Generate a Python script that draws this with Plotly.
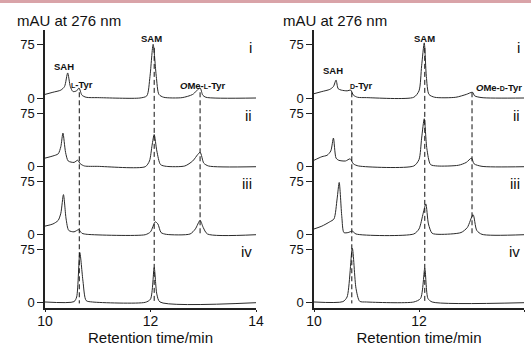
import plotly.graph_objects as go

# ---------------- data ----------------
# Left chromatograms (L-Tyr series): retention time (min) and absorbance (mAU)
L_i_t  = [10.00, 10.15, 10.30, 10.37, 10.43, 10.48, 10.53, 10.60, 10.645, 10.70, 10.78, 11.00, 11.80, 11.93, 11.99, 12.05, 12.11, 12.16, 12.25, 12.60, 12.80, 12.94, 12.99, 13.05, 14.00]
L_i_v  = [5, 8, 11, 16, 35, 16, 9, 10, 14, 4, 1, 0.5, 0, 3, 30, 75, 30, 5, 1, 0.5, 5, 14, 4, 1, 0]
L_ii_t = [10.00, 10.15, 10.25, 10.30, 10.34, 10.39, 10.44, 10.55, 10.62, 10.67, 10.75, 11.00, 11.90, 11.98, 12.03, 12.07, 12.12, 12.19, 12.30, 12.65, 12.80, 12.94, 13.01, 13.10, 14.00]
L_ii_v = [12, 15, 18, 28, 47, 20, 8, 6, 9, 4, 1, 0.5, 0, 8, 30, 45, 22, 3, 0.5, 1, 8, 20, 5, 1, 0]
L_iii_t = [10.00, 10.15, 10.25, 10.30, 10.35, 10.40, 10.45, 10.55, 10.64, 10.70, 10.80, 11.90, 12.00, 12.09, 12.14, 12.20, 12.30, 12.75, 12.85, 12.94, 13.00, 13.08, 14.00]
L_iii_v = [12, 15, 20, 30, 56, 22, 6, 4, 7, 2, 0.5, 0, 4, 18, 15, 3, 0.5, 1, 8, 20, 10, 1, 0]
L_iv_t = [10.00, 10.55, 10.60, 10.66, 10.72, 10.78, 10.90, 11.90, 12.00, 12.07, 12.12, 12.18, 14.00]
L_iv_v = [1, 1.5, 8, 70, 30, 3, 1, 0.5, 5, 49, 12, 1, 0]

# Right chromatograms (D-Tyr series)
R_i_t  = [10.00, 10.15, 10.30, 10.37, 10.42, 10.46, 10.52, 10.63, 10.70, 10.75, 10.83, 11.00, 11.90, 12.00, 12.05, 12.10, 12.14, 12.19, 12.30, 12.70, 12.90, 13.02, 13.06, 13.20, 14.00]
R_i_v  = [6, 9, 12, 16, 25, 13, 11, 10, 11, 4, 1, 0.5, 1, 10, 45, 77, 30, 5, 1, 1, 5, 8, 3, 0.5, 0]
R_ii_t = [10.00, 10.15, 10.25, 10.32, 10.37, 10.42, 10.47, 10.60, 10.69, 10.75, 10.85, 11.90, 12.00, 12.05, 12.10, 12.15, 12.22, 12.35, 12.75, 12.90, 13.00, 13.05, 13.20, 14.00]
R_ii_v = [9, 14, 16, 22, 40, 12, 9, 8, 11, 4, 1, 1, 10, 40, 67, 25, 3, 1, 2, 6, 12, 4, 0.5, 0]
R_iii_t = [10.00, 10.15, 10.30, 10.38, 10.44, 10.48, 10.53, 10.57, 10.65, 10.73, 10.80, 11.90, 12.00, 12.08, 12.13, 12.18, 12.25, 12.40, 12.80, 12.92, 13.03, 13.10, 13.20, 14.00]
R_iii_v = [8, 12, 18, 22, 50, 73, 25, 3, 3, 5, 1, 1, 8, 30, 43, 15, 2, 0.5, 3, 10, 28, 6, 0.5, 0]
R_iv_t = [10.00, 10.55, 10.63, 10.73, 10.80, 10.87, 11.00, 11.90, 12.03, 12.11, 12.17, 12.25, 14.00]
R_iv_v = [1, 1.5, 8, 76, 20, 2, 1, 1, 6, 48, 6, 1, 0]

# Marker (dashed line) retention times
L_marks = [10.65, 12.07, 12.94]
R_marks = [10.72, 12.11, 13.01]

panel_names = ["i", "ii", "iii", "iv"]
y_ticks = [0, 75]
x_ticks = [10, 12, 14]

# ---------------- layout constants ----------------
OFFS = [286, 190, 95, 0]   # vertical stacking offsets (i, ii, iii, iv)
FONT = "Liberation Sans, Arial, sans-serif"
LINE = "#2a2a2a"

fig = go.Figure()

left_sets = [(L_i_t, L_i_v), (L_ii_t, L_ii_v), (L_iii_t, L_iii_v), (L_iv_t, L_iv_v)]
right_sets = [(R_i_t, R_i_v), (R_ii_t, R_ii_v), (R_iii_t, R_iii_v), (R_iv_t, R_iv_v)]

for (t, v), off in zip(left_sets, OFFS):
    fig.add_trace(go.Scatter(x=t, y=[a + off for a in v], mode="lines",
                             line=dict(color=LINE, width=1, shape="spline", smoothing=0.7),
                             xaxis="x", yaxis="y", hoverinfo="skip"))
for (t, v), off in zip(right_sets, OFFS):
    fig.add_trace(go.Scatter(x=t, y=[a + off for a in v], mode="lines",
                             line=dict(color=LINE, width=1, shape="spline", smoothing=0.7),
                             xaxis="x2", yaxis="y2", hoverinfo="skip"))

# dashed marker lines: top at panel i peak, bottom at panel iv (or iii for OMe)
mark_top = [OFFS[0] + 8, OFFS[0] + 70, OFFS[0] + 8]
mark_bot = [OFFS[3] - 1, OFFS[3] - 1, OFFS[2] - 1]
for marks, xa, ya in [(L_marks, "x", "y"), (R_marks, "x2", "y2")]:
    for m, top, bot in zip(marks, mark_top, mark_bot):
        fig.add_trace(go.Scatter(x=[m, m], y=[top, bot], mode="lines",
                                 line=dict(color="#111", width=1, dash="5px,3px"),
                                 xaxis=xa, yaxis=ya, hoverinfo="skip"))

tickvals = []
ticktext = []
for off in OFFS:
    for tv in y_ticks:
        tickvals.append(off + tv)
        ticktext.append(str(tv))

YR = [-7.4, 381]
yax = dict(range=YR, showgrid=False, zeroline=False, showline=True, linecolor="#222", linewidth=1.5,
           ticks="outside", ticklen=6, tickwidth=1.2, tickcolor="#222",
           tickvals=tickvals, ticktext=ticktext, tickfont=dict(family=FONT, size=13, color="#111"))
xax = dict(range=[10, 14], showgrid=False, zeroline=False, showline=True, linecolor="#222", linewidth=1.5,
           ticks="outside", ticklen=2, tickwidth=1.2, tickcolor="#222", tickvals=x_ticks,
           ticklabelstandoff=-3,
           tickfont=dict(family=FONT, size=14, color="#111"),
           title=dict(text="Retention time/min", font=dict(family=FONT, size=15, color="#111"), standoff=7))

W, H = 531, 346
ML, MR, MT, MB = 45, 7, 30, 38
PW = W - ML - MR
PH = H - MT - MB
d1 = (256 - ML) / PW
d2 = (314 - ML) / PW

fig.update_layout(
    width=W, height=H, margin=dict(l=ML, r=MR, t=MT, b=MB, autoexpand=False),
    plot_bgcolor="white", paper_bgcolor="white", showlegend=False,
    xaxis=dict(domain=[0, d1], anchor="y", **xax),
    xaxis2=dict(domain=[d2, 1], anchor="y2", **xax),
    yaxis=dict(domain=[0, 1], anchor="x", **yax),
    yaxis2=dict(domain=[0, 1], anchor="x2", **yax),
)

sc = "<span style='font-size:7px'>{}</span>"
ann = []
lab_font = dict(family=FONT, size=9.5, color="#111")
for xa, ya, tyr, t_sah, t_tyr, t_sam, t_ome, y_sah, y_tyr, y_ome in [
    ("x", "y", "L", 10.36, 10.70, 12.02, 13.00, 44, 19, 17),
    ("x2", "y2", "D", 10.37, 10.91, 12.10, 13.53, 39, 18, 15),
]:
    o = OFFS[0]
    ann.append(dict(x=t_sah, y=o + y_sah, xref=xa, yref=ya, text="<b>SAH</b>", showarrow=False, font=lab_font))
    ann.append(dict(x=t_tyr, y=o + y_tyr, xref=xa, yref=ya, text="<b>" + sc.format(tyr) + "-Tyr</b>", showarrow=False, font=lab_font))
    ann.append(dict(x=t_sam, y=o + 83, xref=xa, yref=ya, text="<b>SAM</b>", showarrow=False, font=lab_font))
    ann.append(dict(x=t_ome, y=o + y_ome, xref=xa, yref=ya, text="<b><i>O</i>Me-" + sc.format(tyr) + "-Tyr</b>", showarrow=False, font=lab_font))
    for name, off in zip(panel_names, OFFS):
        ann.append(dict(x=13.97, y=off + 71, xref=xa, yref=ya, text=name, showarrow=False, xanchor="right",
                        font=dict(family=FONT, size=15, color="#111")))
# y-axis titles
for xp in [15, 281]:
    ann.append(dict(x=(xp - ML) / PW, y=1 + (MT - 20) / PH, xref="paper", yref="paper", text="mAU at 276 nm",
                    showarrow=False, xanchor="left", yanchor="middle",
                    font=dict(family=FONT, size=15, color="#111")))
fig.update_layout(annotations=ann)

# thin pink rule at the very top of the image
fig.add_shape(type="line", xref="paper", yref="paper", x0=-ML / PW, x1=1 + MR / PW,
              y0=1 + (MT - 1.5) / PH, y1=1 + (MT - 1.5) / PH, line=dict(color="#d9a3a8", width=3))

fig.write_html("out.html", config={"displayModeBar": False},
               post_script="document.body.style.margin='0';document.body.style.overflow='hidden';")
